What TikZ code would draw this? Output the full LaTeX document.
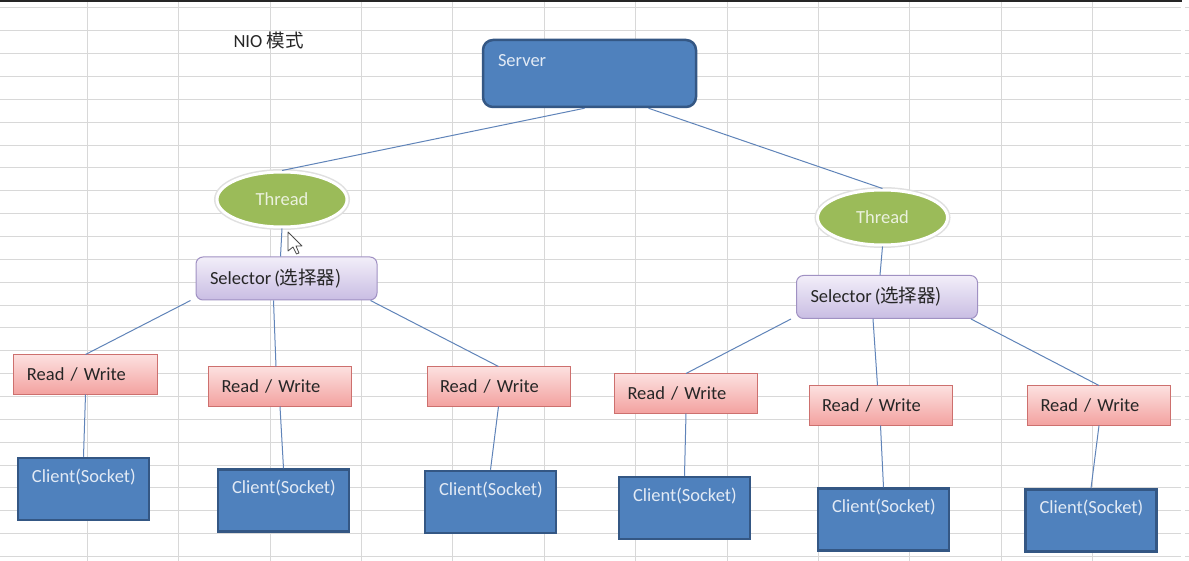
\documentclass[tikz,border=0pt]{standalone}
\usepackage{fontspec}
\setmainfont{Carlito}
\newfontfamily\cjk{Noto Sans CJK SC}
\usepackage{xcolor}
\usetikzlibrary{shapes.geometric}

\definecolor{boxblue}{RGB}{79,129,189}
\definecolor{boxedge}{RGB}{52,87,132}
\definecolor{boxtext}{RGB}{226,234,245}
\definecolor{thrgreen}{RGB}{155,187,89}
\definecolor{thrtext}{RGB}{235,241,222}
\definecolor{seltop}{RGB}{242,238,249}
\definecolor{selbot}{RGB}{201,189,227}
\definecolor{seledge}{RGB}{160,145,195}
\definecolor{rwtop}{RGB}{252,224,223}
\definecolor{rwbot}{RGB}{243,162,160}
\definecolor{rwedge}{RGB}{205,112,110}
\definecolor{linkblue}{RGB}{96,132,185}
\definecolor{gridgray}{RGB}{216,216,216}

\tikzset{
    txt/.style={font=\fontsize{18.5bp}{22bp}\selectfont},
    server/.style={txt, rectangle, rounded corners=10bp, draw=boxedge, line width=2.5bp,
        fill=boxblue, text=boxtext, text width=183bp, inner xsep=15bp, align=left,
        inner ysep=12bp, text height=15bp, text depth=28bp},
    client/.style={txt, rectangle, draw=boxedge, line width=2.5bp, fill=boxblue,
        text=boxtext, text width=103bp, inner xsep=14bp, align=left,
        inner ysep=10bp, text height=14bp, text depth=28bp},
    thread/.style={txt, ellipse, minimum width=130bp, minimum height=55bp, inner sep=0pt,
        fill=thrgreen, draw=white, line width=3bp, text=thrtext,
        preaction={draw=black!12, line width=6bp}},
    selector/.style={txt, rectangle, rounded corners=7bp, draw=seledge, line width=1bp,
        top color=seltop, bottom color=selbot, text=black!85, text width=153bp,
        inner xsep=14bp, align=left, minimum height=43bp},
    rw/.style={txt, rectangle, draw=rwedge, line width=1bp, top color=rwtop,
        bottom color=rwbot, text=black!85, text width=117bp, inner xsep=13bp,
        align=left, minimum height=39bp},
    link/.style={draw=linkblue, line width=1bp},
    gridline/.style={draw=gridgray, line width=1bp}
}

\begin{document}
\begin{tikzpicture}[x=1bp, y=-1bp]
    \useasboundingbox (0,0) rectangle (1189,561);
    \fill[white] (0,0) rectangle (1189,561);
    % spreadsheet grid
    \foreach \k in {0,...,24} {
        \draw[gridline] (0,{8+22.85*\k}) -- (1181,{8+22.85*\k});
        \draw[gridline] (1185,{8+22.85*\k}) -- (1189,{8+22.85*\k});
    }
    \foreach \k in {0,...,11}
        \draw[gridline] ({87.3+91.4*\k},2) -- ({87.3+91.4*\k},561);
    \draw[black!85, line width=2bp] (0,1) -- (1182,1);

    \node[txt, anchor=base west, text=black!85] (title) at (230,48) {NIO \cjk{模式}};

    \node[server] (server) at (589.5,73.5) {Server};
    \node[thread] (thr1) at (282,199.5) {Thread};
    \node[thread] (thr2) at (882.5,217.5) {Thread};
    \node[selector] (sel1) at (286.5,278.5) {Selector\,(\cjk{选择器})};
    \node[selector] (sel2) at (887,297) {Selector\,(\cjk{选择器})};

    \node[rw] (rw1) at (85.5,374.5) {Read / Write};
    \node[rw] (rw2) at (280,386.5) {Read / Write};
    \node[rw] (rw3) at (498.5,386.5) {Read / Write};
    \node[rw] (rw4) at (686,393.5) {Read / Write};
    \node[rw] (rw5) at (880.5,405.5) {Read / Write};
    \node[rw] (rw6) at (1099,405.5) {Read / Write};

    \node[client] (c1) at (83.5,489) {Client(Socket)};
    \node[client] (c2) at (283.5,500.5) {Client(Socket)};
    \node[client] (c3) at (490.5,502) {Client(Socket)};
    \node[client] (c4) at (684.5,508) {Client(Socket)};
    \node[client] (c5) at (883.5,519.5) {Client(Socket)};
    \node[client] (c6) at (1091,520.5) {Client(Socket)};

    % links
    \draw[link] ([xshift=-5bp]server.south) -- (thr1.north);
    \draw[link] ([xshift=59bp]server.south) -- (thr2.north);
    \draw[link] (thr1.south) -- ([xshift=-6bp]sel1.north);
    \draw[link] (thr2.south) -- ([xshift=-7bp]sel2.north);
    \draw[link] ([xshift=-5bp]sel1.south west) -- (rw1.north);
    \draw[link] ([xshift=-13bp]sel1.south) -- ([xshift=-4bp]rw2.north);
    \draw[link] ([xshift=-7bp]sel1.south east) -- (rw3.north);
    \draw[link] ([xshift=-5bp]sel2.south west) -- (rw4.north);
    \draw[link] ([xshift=-14bp]sel2.south) -- ([xshift=-3bp]rw5.north);
    \draw[link] ([xshift=-7bp]sel2.south east) -- (rw6.north);
    \draw[link] (rw1.south) -- (c1.north);
    \draw[link] (rw2.south) -- (c2.north);
    \draw[link] (rw3.south) -- (c3.north);
    \draw[link] (rw4.south) -- (c4.north);
    \draw[link] (rw5.south) -- (c5.north);
    \draw[link] (rw6.south) -- (c6.north);

    % mouse pointer
    \draw[fill=white, draw=black!70, line width=0.8bp, line join=round]
        (288,232) -- ++(0,19) -- ++(5,-4) -- ++(3.5,7) -- ++(2.5,-1) -- ++(-3,-7) -- ++(6,0) -- cycle;
\end{tikzpicture}
\end{document}
